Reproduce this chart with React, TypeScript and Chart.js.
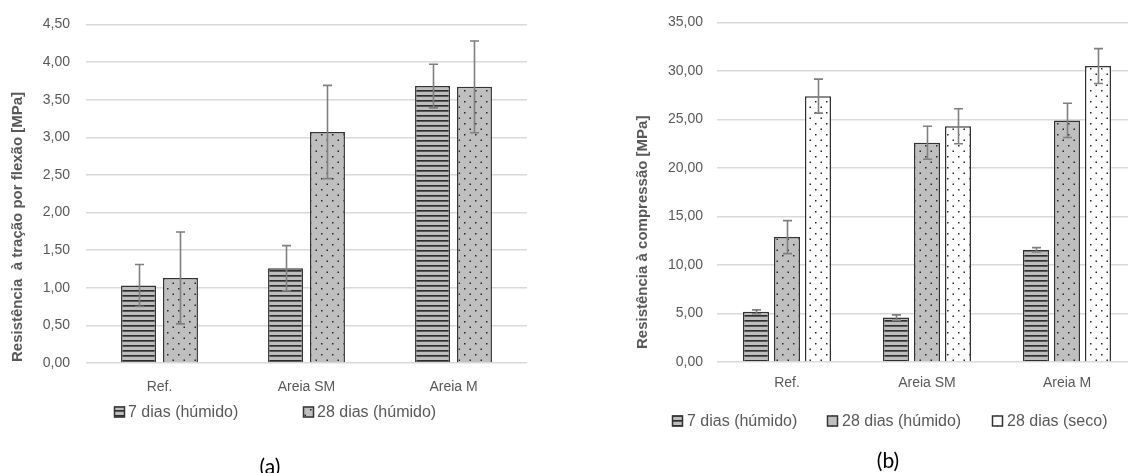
import React, { useEffect, useRef } from "react";
import { Chart, registerables } from "chart.js";

Chart.register(...registerables);

// ---------- data ----------
const categories = ["Ref.", "Areia SM", "Areia M"];

const flexLabels = ["7 dias (húmido)", "28 dias (húmido)"];
const flexSeven = [1.03, 1.26, 3.68];
const flexSevenErr = [0.28, 0.3, 0.29];
const flexTwentyEight = [1.13, 3.07, 3.67];
const flexTwentyEightErr = [0.61, 0.62, 0.61];
const flexAxis = { min: 0, max: 4.5, step: 0.5 };
const flexTitle = "Resistência  à tração por flexão [MPa]";

const compLabels = ["7 dias (húmido)", "28 dias (húmido)", "28 dias (seco)"];
const compSeven = [5.17, 4.58, 11.57];
const compSevenErr = [0.2, 0.28, 0.22];
const compTwentyEight = [12.87, 22.6, 24.9];
const compTwentyEightErr = [1.7, 1.7, 1.77];
const compSeco = [27.4, 24.3, 30.5];
const compSecoErr = [1.75, 1.8, 1.8];
const compAxis = { min: 0, max: 35, step: 5 };
const compTitle = "Resistência à compressão [MPa]";

const captions = ["(a)", "(b)"];

// ---------- styles ----------
const FONT = "'Liberation Sans', Arial, sans-serif";
const TEXT = "#595959";
const GRID = "#d9d9d9";
const BORDER = "#333333";
const ERR = "#7f7f7f";

function stripePattern(ctx: CanvasRenderingContext2D) {
  const c = document.createElement("canvas");
  c.width = 8;
  c.height = 5;
  const g = c.getContext("2d")!;
  g.fillStyle = "#bdbdbd";
  g.fillRect(0, 0, 8, 5);
  g.fillStyle = "#2e2e2e";
  g.fillRect(0, 0, 8, 1);
  g.fillStyle = "#5a5a5a";
  g.fillRect(0, 1, 8, 1);
  return ctx.createPattern(c, "repeat")!;
}

function dotPattern(ctx: CanvasRenderingContext2D, bg: string) {
  const c = document.createElement("canvas");
  c.width = 11;
  c.height = 11;
  const g = c.getContext("2d")!;
  g.fillStyle = bg;
  g.fillRect(0, 0, 11, 11);
  g.fillStyle = "#262626";
  g.fillRect(2, 2, 1.5, 1.5);
  g.fillRect(7.5, 7.5, 1.5, 1.5);
  return ctx.createPattern(c, "repeat")!;
}

const fmt = (v: number) => v.toFixed(2).replace(".", ",");

const errorBarsPlugin = {
  id: "errorBars",
  afterDatasetsDraw(chart: any) {
    const ctx = chart.ctx;
    const ys = chart.scales.y;
    ctx.save();
    ctx.strokeStyle = ERR;
    ctx.lineWidth = 1.6;
    chart.data.datasets.forEach((ds: any, i: number) => {
      const meta = chart.getDatasetMeta(i);
      meta.data.forEach((el: any, j: number) => {
        const v = ds.data[j];
        const e = ds.errors[j];
        const x = Math.round(el.x) + 0.5;
        const yt = ys.getPixelForValue(v + e);
        const yb = ys.getPixelForValue(v - e);
        ctx.beginPath();
        ctx.moveTo(x, yt);
        ctx.lineTo(x, yb);
        ctx.moveTo(x - 4.5, yt);
        ctx.lineTo(x + 4.5, yt);
        ctx.moveTo(x - 4.5, yb);
        ctx.lineTo(x + 4.5, yb);
        ctx.stroke();
      });
    });
    ctx.restore();
  },
};

const customLegendPlugin = {
  id: "customLegend",
  afterDraw(chart: any, _args: any, opts: any) {
    const ctx = chart.ctx;
    ctx.save();
    ctx.font = `16px ${FONT}`;
    ctx.textBaseline = "middle";
    ctx.textAlign = "left";
    chart.data.datasets.forEach((ds: any, i: number) => {
      const x = opts.xs[i];
      const y = opts.y;
      const s = opts.box;
      ctx.fillStyle = ds.backgroundColor;
      ctx.fillRect(x, y - s / 2, s, s);
      ctx.strokeStyle = BORDER;
      ctx.lineWidth = 1.5;
      ctx.strokeRect(x + 0.5, y - s / 2 + 0.5, s - 1, s - 1);
      ctx.fillStyle = TEXT;
      ctx.fillText(ds.label, x + s + opts.gap, y + 1);
    });
    ctx.restore();
  },
};

const axisTitlePlugin = {
  id: "axisTitle",
  afterDraw(chart: any, _args: any, opts: any) {
    const ctx = chart.ctx;
    ctx.save();
    ctx.font = `bold 15px ${FONT}`;
    ctx.fillStyle = TEXT;
    ctx.textBaseline = "middle";
    ctx.textAlign = "left";
    ctx.translate(opts.x, opts.yStart);
    ctx.rotate(-Math.PI / 2);
    ctx.fillText(opts.text, 0, 0);
    ctx.restore();
  },
};

function makeConfig(opts: {
  datasets: any[];
  axis: { min: number; max: number; step: number };
  yWidth: number;
  padding: any;
  xPad: number;
  yPad: number;
  catPct: number;
  barPct: number;
  legend: any;
  title: any;
}) {
  return {
    type: "bar" as const,
    data: { labels: categories, datasets: opts.datasets },
    plugins: [errorBarsPlugin, customLegendPlugin, axisTitlePlugin],
    options: {
      animation: false as const,
      responsive: false,
      devicePixelRatio: 1,
      layout: { padding: opts.padding },
      datasets: {
        bar: {
          categoryPercentage: opts.catPct,
          barPercentage: opts.barPct,
        },
      },
      plugins: {
        legend: { display: false },
        tooltip: { enabled: false },
        customLegend: opts.legend,
        axisTitle: opts.title,
      },
      scales: {
        x: {
          grid: { display: false, drawTicks: false },
          border: { display: false },
          ticks: {
            color: TEXT,
            font: { family: FONT, size: 14 },
            padding: opts.xPad,
          },
          afterFit: (s: any) => {
            s.height = 30;
          },
        },
        y: {
          min: opts.axis.min,
          max: opts.axis.max,
          grid: { color: GRID, lineWidth: 1.5, drawTicks: false },
          border: { display: false },
          ticks: {
            stepSize: opts.axis.step,
            color: TEXT,
            font: { family: FONT, size: 14 },
            padding: opts.yPad,
            callback: (v: any) => fmt(Number(v)),
          },
          afterFit: (s: any) => {
            s.width = opts.yWidth;
          },
        },
      },
    },
  };
}

export default function App() {
  const refA = useRef<HTMLCanvasElement>(null);
  const refB = useRef<HTMLCanvasElement>(null);

  useEffect(() => {
    const ca = refA.current!;
    const cb = refB.current!;
    const ctxA = ca.getContext("2d")!;
    const ctxB = cb.getContext("2d")!;

    const chartA = new Chart(
      ca,
      makeConfig({
        datasets: [
          {
            label: flexLabels[0],
            data: flexSeven,
            errors: flexSevenErr,
            backgroundColor: stripePattern(ctxA),
            borderColor: BORDER,
            borderWidth: 1.5,
          },
          {
            label: flexLabels[1],
            data: flexTwentyEight,
            errors: flexTwentyEightErr,
            backgroundColor: dotPattern(ctxA, "#bfbfbf"),
            borderColor: BORDER,
            borderWidth: 1.5,
          },
        ],
        axis: flexAxis,
        yWidth: 86,
        padding: { top: 24, left: 0, right: 18, bottom: 80 },
        xPad: 16,
        yPad: 16,
        catPct: 0.571,
        barPct: 0.833,
        legend: { xs: [114, 303], y: 412, box: 11, gap: 3 },
        title: { text: flexTitle, x: 18, yStart: 362 },
      }) as any
    );

    const chartB = new Chart(
      cb,
      makeConfig({
        datasets: [
          {
            label: compLabels[0],
            data: compSeven,
            errors: compSevenErr,
            backgroundColor: stripePattern(ctxB),
            borderColor: BORDER,
            borderWidth: 1.5,
          },
          {
            label: compLabels[1],
            data: compTwentyEight,
            errors: compTwentyEightErr,
            backgroundColor: dotPattern(ctxB, "#bfbfbf"),
            borderColor: BORDER,
            borderWidth: 1.5,
          },
          {
            label: compLabels[2],
            data: compSeco,
            errors: compSecoErr,
            backgroundColor: dotPattern(ctxB, "#ffffff"),
            borderColor: BORDER,
            borderWidth: 1.5,
          },
        ],
        axis: compAxis,
        yWidth: 157,
        padding: { top: 22, left: 0, right: 3, bottom: 81 },
        xPad: 13,
        yPad: 14,
        catPct: 0.664,
        barPct: 0.84,
        legend: { xs: [112, 267, 432], y: 421, box: 11, gap: 4 },
        title: { text: compTitle, x: 83, yStart: 349 },
      }) as any
    );

    return () => {
      chartA.destroy();
      chartB.destroy();
    };
  }, []);

  const captionStyle: React.CSSProperties = {
    position: "absolute",
    fontFamily: "Lato, 'Open Sans', sans-serif",
    fontSize: 21,
    lineHeight: "24px",
    color: "#000",
    transform: "translateX(-50%)",
    whiteSpace: "nowrap",
  };

  return (
    <div
      style={{
        position: "fixed",
        left: 0,
        top: 0,
        width: 1128,
        height: 473,
        overflow: "hidden",
        background: "#fff",
      }}
    >
      <canvas
        ref={refA}
        width={545}
        height={473}
        style={{ position: "absolute", left: 0, top: 0, width: 545, height: 473 }}
      />
      <canvas
        ref={refB}
        width={580}
        height={473}
        style={{ position: "absolute", left: 560, top: 0, width: 580, height: 473 }}
      />
      <div style={{ ...captionStyle, left: 270, top: 454 }}>{captions[0]}</div>
      <div style={{ ...captionStyle, left: 888, top: 448 }}>{captions[1]}</div>
    </div>
  );
}
